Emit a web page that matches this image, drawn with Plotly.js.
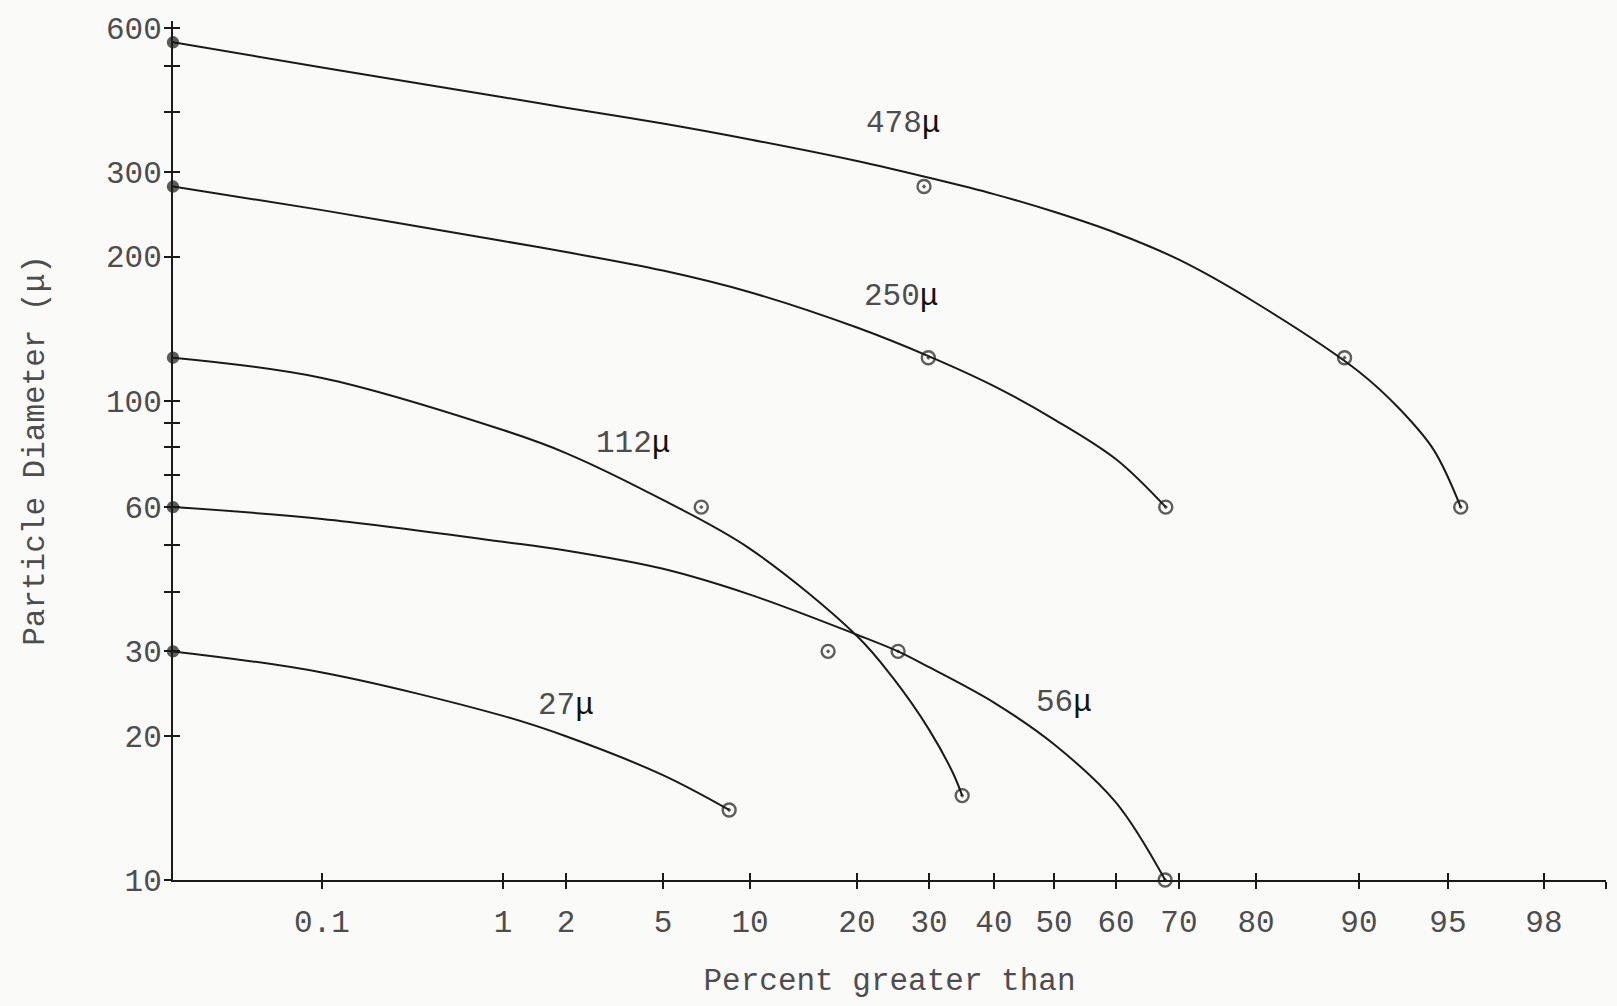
<!DOCTYPE html>
<html>
<head>
<meta charset="utf-8">
<script src="https://cdn.plot.ly/plotly-3.0.1.min.js"></script>
<style>
html,body{margin:0;padding:0;background:#fafaf9;}
#chart{width:1617px;height:1006px;}
</style>
</head>
<body>
<div id="chart"></div>
<script>
// ---- Percent scale of the printed paper (custom probability-type scale) ----
// stops: percentage value -> fraction of the axis length where it is printed
const scalePct  = [0, 0.1, 1, 2, 5, 10, 20, 30, 40, 50, 60, 70, 80, 90, 95, 98, 99.9];
const scaleFrac = [0, 0.1040, 0.2303, 0.2742, 0.3419, 0.4027, 0.4773, 0.5276, 0.5729, 0.6148, 0.6581, 0.7020, 0.7558, 0.8276, 0.8897, 0.9567, 1];

// ---- Tick labels ----
const xTickPct  = [0.1, 1, 2, 5, 10, 20, 30, 40, 50, 60, 70, 80, 90, 95, 98, 99.9];
const xTickText = ['0.1', '1', '2', '5', '10', '20', '30', '40', '50', '60', '70', '80', '90', '95', '98', ''];
const yTickVals = [10, 20, 30, 40, 50, 60, 70, 80, 90, 100, 200, 300, 400, 500, 600];
const yTickText = ['10', '20', '30', '', '', '60', '', '', '', '100', '200', '300', '', '', '600'];

// ---- Series names ----
const seriesNames = ['478\u03bc', '250\u03bc', '112\u03bc', '56\u03bc', '27\u03bc'];

// ---- Measured points: percent greater than, particle diameter (micron) ----
const pct478 = [0, 29.3, 88.6, 95.4];
const dia478 = [560, 280, 123, 60];
const pct250 = [0, 29.9, 67.9];
const dia250 = [280, 123, 60];
const pct112 = [0, 7.2, 17.3, 35.1];
const dia112 = [123, 60, 30, 15];
const pct56  = [0, 25.7, 67.8];
const dia56  = [60, 30, 10];
const pct27  = [0, 8.8];
const dia27  = [30, 14];

// ---- Hand-drawn smooth curves ----
const curve478Pct = [0, 0.1, 1, 2, 5, 10, 20, 30, 40, 50, 60, 70, 80, 90, 92.3, 94.2, 95.4];
const curve478Dia = [560, 496, 430, 409, 379, 351, 316.5, 292, 270, 248, 224, 197, 160, 115, 96, 79, 60];
const curve250Pct = [0, 0.1, 1, 2, 5, 10, 20, 30, 40, 50, 60, 67.9];
const curve250Dia = [280, 250, 215.5, 204.4, 187, 168.5, 142.2, 123.8, 107.3, 91.5, 75.5, 60];
const curve112Pct = [0, 0.1, 1, 2, 5, 10, 20, 25, 30, 33.7, 35.1];
const curve112Dia = [123, 111.6, 86.9, 77.8, 62.1, 49.1, 32.3, 26.4, 20.6, 16.7, 15];
const curve56Pct  = [0, 0.1, 1, 2, 5, 10, 20, 25.7, 30, 40, 50, 60, 67.8];
const curve56Dia  = [60, 56.7, 50.8, 48.7, 44.6, 39.4, 32.5, 30, 27.8, 23.45, 19.2, 14.5, 10];
const curve27Pct  = [0, 0.1, 1, 2, 5, 8.8];
const curve27Dia  = [30, 27.1, 22, 19.95, 16.55, 14];

// scale transform percent -> axis coordinate
function pos(p) {
  if (p <= scalePct[0]) return scaleFrac[0];
  for (let i = 1; i < scalePct.length; i++) {
    if (p <= scalePct[i]) {
      const t = (p - scalePct[i-1]) / (scalePct[i] - scalePct[i-1]);
      return scaleFrac[i-1] + t * (scaleFrac[i] - scaleFrac[i-1]);
    }
  }
  return scaleFrac[scaleFrac.length - 1];
}

const FONT = 'Liberation Mono, "Courier New", monospace';
const FS = 31;
const TXT = '#4d4d4d';
const INK = '#1a1a1a';

const pointSets = [[pct478, dia478], [pct250, dia250], [pct112, dia112], [pct56, dia56], [pct27, dia27]];
const curveSets = [[curve478Pct, curve478Dia], [curve250Pct, curve250Dia], [curve112Pct, curve112Dia],
                   [curve56Pct, curve56Dia], [curve27Pct, curve27Dia]];

const traces = [];
curveSets.forEach(([p, d], i) => {
  traces.push({
    type: 'scatter', mode: 'lines', name: seriesNames[i] + ' curve',
    x: p.map(pos), y: d,
    line: {color: INK, width: 2, shape: 'spline', smoothing: 1},
    showlegend: false, hoverinfo: 'skip', cliponaxis: false
  });
});
pointSets.forEach(([p, d], i) => {
  traces.push({
    type: 'scatter', mode: 'markers', name: seriesNames[i],
    x: p.map(pos), y: d,
    marker: {
      symbol: p.map(v => v === 0 ? 'circle' : 'circle-open-dot'),
      size: p.map(v => v === 0 ? 10 : 13),
      color: INK, line: {color: INK, width: 2.4}
    },
    showlegend: false, cliponaxis: false
  });
});
// carrier for the inward half of the crossing ticks
traces.push({type: 'scatter', mode: 'markers', x: [], y: [], xaxis: 'x2', yaxis: 'y2',
             showlegend: false, hoverinfo: 'skip'});

const yRange = [1, 2.7926];
const xTickPos = xTickPct.map(pos);

const labelAnn = [
  {text: '478<span style="color:#111">\u03bc</span>', x: 0.5094, y: 0.8801},
  {text: '250<span style="color:#111">\u03bc</span>', x: 0.5080, y: 0.6787},
  {text: '112<span style="color:#111">\u03bc</span>', x: 0.3210, y: 0.5076},
  {text: '56<span style="color:#111">\u03bc</span>',  x: 0.6218, y: 0.2072},
  {text: '27<span style="color:#111">\u03bc</span>',  x: 0.2742, y: 0.2026}
].map(a => ({
  text: a.text, x: a.x, y: a.y, xref: 'paper', yref: 'paper',
  showarrow: false, xanchor: 'center', yanchor: 'middle',
  font: {family: FONT, size: FS, color: TXT}
}));

const layout = {
  width: 1617, height: 1006,
  margin: {l: 173, r: 11, t: 21, b: 126, pad: 0},
  paper_bgcolor: '#fafaf9', plot_bgcolor: '#fafaf9',
  showlegend: false,
  font: {family: FONT, color: TXT},
  xaxis: {
    range: [0, 1], showgrid: false, zeroline: false,
    showline: true, linecolor: INK, linewidth: 2,
    ticks: 'outside', ticklen: 7, tickwidth: 2, tickcolor: INK,
    tickmode: 'array', tickvals: xTickPos, ticktext: xTickText,
    tickfont: {family: FONT, size: FS, color: TXT},
    ticklabelstandoff: 6,
    title: {text: 'Percent greater than', font: {family: FONT, size: FS, color: TXT}, standoff: 28}
  },
  yaxis: {
    type: 'log', range: yRange, showgrid: false, zeroline: false,
    showline: true, linecolor: INK, linewidth: 2,
    ticks: 'outside', ticklen: 7, tickwidth: 2, tickcolor: INK,
    tickmode: 'array', tickvals: yTickVals, ticktext: yTickText,
    tickfont: {family: FONT, size: FS, color: TXT},
    ticklabelstandoff: -4,
    title: {text: 'Particle Diameter (\u03bc)', font: {family: FONT, size: FS, color: TXT}, standoff: 52}
  },
  xaxis2: {
    overlaying: 'x', anchor: 'y', range: [0, 1], showgrid: false, zeroline: false, showline: false,
    ticks: 'inside', ticklen: 7, tickwidth: 2, tickcolor: INK,
    tickmode: 'array', tickvals: xTickPos, showticklabels: false
  },
  yaxis2: {
    overlaying: 'y', anchor: 'x', type: 'log', range: yRange, showgrid: false, zeroline: false, showline: false,
    ticks: 'inside', ticklen: 7, tickwidth: 2, tickcolor: INK,
    tickmode: 'array', tickvals: yTickVals, showticklabels: false
  },
  annotations: labelAnn
};

Plotly.newPlot('chart', traces, layout, {displayModeBar: false, staticPlot: true});
</script>
</body>
</html>
